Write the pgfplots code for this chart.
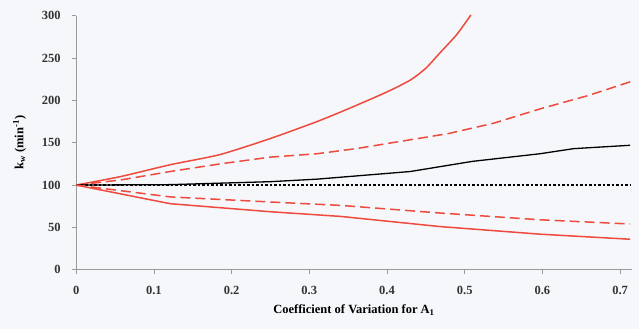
\documentclass[border=0pt]{standalone}
\usepackage{fontspec}
\setmainfont{Liberation Serif}
\usepackage{pgfplots}
\pgfplotsset{compat=1.18}
\definecolor{rd}{HTML}{EE4A3E}
\definecolor{bg}{HTML}{F6F7FA}
\definecolor{ax}{HTML}{9A9A9A}
\begin{document}
\begin{tikzpicture}[x=1pt,y=1pt]
\fill[bg] (0,0) rectangle (639,329);
\useasboundingbox (0,0) rectangle (639,329);
\begin{axis}[
  at={(98,70)}, anchor=origin,
  scale only axis, width=555.6pt, height=254pt,
  xmin=0, xmax=0.715, ymin=0, ymax=300,
  axis lines*=left, axis line style={ax, line width=0.8pt},
  axis line style={-},
  xtick={0,0.1,...,0.7}, ytick={0,50,...,300},
  xticklabels={0,0.1,0.2,0.3,0.4,0.5,0.6,0.7},
  tick style={ax, line width=0.6pt},
  tick align=outside, major tick length=4pt,
  ticklabel style={font=\bfseries\fontsize{12.5}{14}\selectfont, text=black!80},
  xticklabel style={yshift=-9pt},
  yticklabel style={xshift=-8pt},
  /pgf/number format/assume math mode=true,
  xlabel={\bfseries Coefficient of Variation for A\textsubscript{1}},
  xlabel style={font=\fontsize{12.5}{14}\selectfont, yshift=-3pt},
  ylabel={\bfseries k\textsubscript{w} (min\textsuperscript{-1})},
  ylabel style={font=\fontsize{12.5}{14}\selectfont, yshift=9pt},
  clip=false,
]
% upper solid red
\addplot[rd, line width=1.5pt, smooth, tension=0.4] coordinates {
(0,100) (0.057,110) (0.121,124) (0.185,136) (0.25,155) (0.31,175) (0.35,190) (0.40,210) (0.43,224) (0.45,238) (0.468,256) (0.49,278) (0.508,301)};
% upper dashed red
\addplot[rd, line width=1.5pt, dash pattern=on 10pt off 5pt] coordinates {
(0,100) (0.057,106) (0.121,116) (0.185,125) (0.25,133) (0.31,137) (0.36,143) (0.42,152) (0.48,161) (0.537,173) (0.597,190) (0.66,206) (0.713,222)};
% black solid
\addplot[black, line width=1.3pt] coordinates {
(0,100) (0.121,100.5) (0.25,104) (0.31,107) (0.43,116) (0.51,128) (0.597,137) (0.64,143) (0.713,147)};
% dotted black
\addplot[black, line width=1.5pt, dash pattern=on 2.5pt off 2pt] coordinates {(0,100) (0.713,100)};
% lower dashed red
\addplot[rd, line width=1.5pt, dash pattern=on 10pt off 5pt] coordinates {
(0,100) (0.121,86) (0.25,80) (0.34,76) (0.468,67) (0.597,59) (0.713,54)};
% lower solid red
\addplot[rd, line width=1.5pt] coordinates {
(0,100) (0.121,78) (0.25,68.5) (0.34,63) (0.468,51) (0.597,42) (0.713,36)};
\end{axis}
\end{tikzpicture}
\end{document}
